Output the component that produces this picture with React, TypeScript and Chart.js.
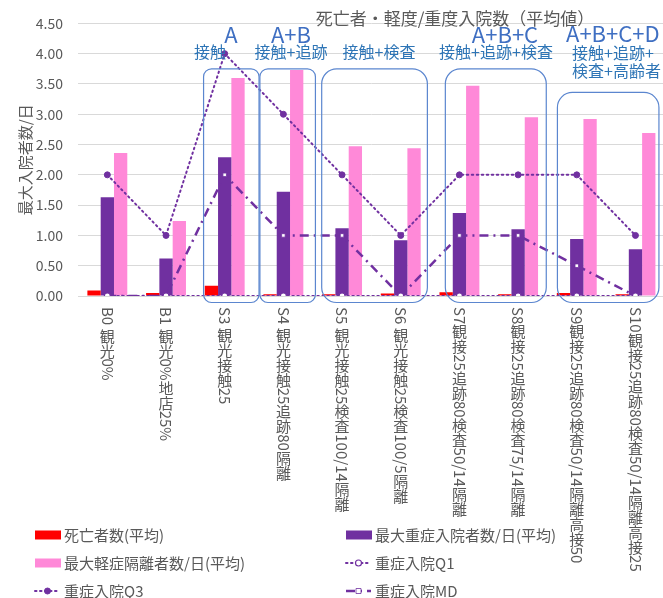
import React, { useEffect, useRef } from 'react';
import { Chart, registerables } from 'chart.js';

Chart.register(...registerables);

const FAMILY = "'Noto Sans CJK JP', 'Noto Sans', sans-serif";

const categories = [
  'B0 観光0%',
  'B1 観光0%地店25%',
  'S3 観光接触25',
  'S4 観光接触25追跡80隔離',
  'S5 観光接触25検査100/14隔離',
  'S6 観光接触25検査100/5隔離',
  'S7観接25追跡80検査50/14隔離',
  'S8観接25追跡80検査75/14隔離',
  'S9観接25追跡80検査50/14隔離高接50',
  'S10観接25追跡80検査50/14隔離高接25',
];

const deaths = [0.09, 0.05, 0.17, 0.03, 0.03, 0.04, 0.06, 0.03, 0.05, 0.03];
const severeMax = [1.63, 0.62, 2.29, 1.72, 1.12, 0.92, 1.37, 1.1, 0.94, 0.77];
const mildMax = [2.36, 1.24, 3.6, 3.73, 2.47, 2.44, 3.47, 2.95, 2.92, 2.69];
const severeQ1 = [0, 0, 0, 0, 0, 0, 0, 0, 0, 0];
const severeQ3 = [2, 1, 4, 3, 2, 1, 2, 2, 2, 1];
const severeMD = [0, 0, 2, 1, 1, 0, 1, 1, 0.5, 0];

const yTicks = { min: 0, max: 4.5, step: 0.5 };

const chartTitle = '死亡者・軽度/重度入院数（平均値）';
const yTitle = '最大入院者数/日';

// annotation groups (in category-index / value units)
const groupBoxes = [
  { from: 1.64, to: 2.585, top: 3.75, radius: 8 },
  { from: 2.6, to: 3.546, top: 3.75, radius: 8 },
  { from: 3.653, to: 5.454, top: 3.75, radius: 15 },
  { from: 5.76, to: 7.48, top: 3.75, radius: 15 },
  { from: 7.67, to: 9.4, top: 3.36, radius: 15 },
];
const groupTexts = [
  { text: 'A', x: 231, y: 35, big: true, align: 'center' },
  { text: '接触', x: 210, y: 52, big: false, align: 'center' },
  { text: 'A+B', x: 291, y: 35, big: true, align: 'center' },
  { text: '接触+追跡', x: 291, y: 52, big: false, align: 'center' },
  { text: '接触+検査', x: 379, y: 52, big: false, align: 'center' },
  { text: 'A+B+C', x: 505, y: 35, big: true, align: 'center' },
  { text: '接触+追跡+検査', x: 496, y: 52, big: false, align: 'center' },
  { text: 'A+B+C+D', x: 566, y: 34, big: true, align: 'left' },
  { text: '接触+追跡+', x: 572, y: 53, big: false, align: 'left' },
  { text: '検査+高齢者', x: 572, y: 71, big: false, align: 'left' },
];

const legendSlots = [
  [35, 535],
  [346, 535],
  [35, 563],
  [346, 563],
  [35, 591],
  [346, 591],
];

const PURPLE = '#7030A0';
const GRAY = '#595959';

function drawMarker(ctx: CanvasRenderingContext2D, ds: any, x: number, y: number) {
  const r = ds.pointRadius;
  ctx.save();
  ctx.setLineDash([]);
  ctx.fillStyle = ds.pointBackgroundColor;
  ctx.strokeStyle = ds.pointBorderColor;
  ctx.lineWidth = ds.pointBorderWidth;
  ctx.beginPath();
  if (ds.pointStyle === 'rect') {
    ctx.rect(x - r, y - r, 2 * r, 2 * r);
  } else {
    ctx.arc(x, y, r, 0, Math.PI * 2);
  }
  ctx.fill();
  ctx.stroke();
  ctx.restore();
}

const overlayPlugin = {
  id: 'overlay',
  afterDraw(chart: any) {
    const ctx: CanvasRenderingContext2D = chart.ctx;
    const xs = chart.scales.x;
    const ys = chart.scales.y;
    const area = chart.chartArea;
    ctx.save();

    // title
    ctx.font = `17px ${FAMILY}`;
    ctx.fillStyle = GRAY;
    ctx.textAlign = 'center';
    ctx.textBaseline = 'middle';
    ctx.fillText(chartTitle, 455, 19);

    // x labels, vertical stacked
    ctx.font = `15px ${FAMILY}`;
    ctx.fillStyle = GRAY;
    categories.forEach((lab, i) => {
      const cx = xs.getPixelForValue(i);
      let y = area.bottom + 11;
      for (const ch of Array.from(lab)) {
        const code = ch.codePointAt(0) || 0;
        if (code >= 0x2e80) {
          ctx.textAlign = 'center';
          ctx.textBaseline = 'top';
          ctx.fillText(ch, cx, y);
          y += 15;
        } else {
          const w = ctx.measureText(ch).width;
          ctx.save();
          ctx.translate(cx, y);
          ctx.rotate(Math.PI / 2);
          ctx.textAlign = 'left';
          ctx.textBaseline = 'middle';
          ctx.fillText(ch, 0, 0);
          ctx.restore();
          y += w;
        }
      }
    });

    // group boxes
    ctx.strokeStyle = '#5B86CF';
    ctx.lineWidth = 1.2;
    groupBoxes.forEach((b) => {
      const x1 = xs.getPixelForValue(b.from);
      const x2 = xs.getPixelForValue(b.to);
      const y1 = ys.getPixelForValue(b.top);
      const y2 = area.bottom + 6.5;
      ctx.beginPath();
      (ctx as any).roundRect(x1, y1, x2 - x1, y2 - y1, b.radius);
      ctx.stroke();
    });

    // group texts
    groupTexts.forEach((t) => {
      ctx.font = t.big ? `22px ${FAMILY}` : `16px ${FAMILY}`;
      ctx.fillStyle = t.big ? '#3F6FC2' : '#2E75B6';
      ctx.textAlign = t.align as CanvasTextAlign;
      ctx.textBaseline = 'middle';
      ctx.fillText(t.text, t.x, t.y);
    });

    // legend
    ctx.font = `15px ${FAMILY}`;
    chart.data.datasets.forEach((ds: any, i: number) => {
      const [lx, ly] = legendSlots[i];
      if (ds.type === 'line') {
        ctx.save();
        ctx.strokeStyle = ds.borderColor;
        ctx.lineWidth = ds.borderWidth;
        ctx.lineCap = ds.borderCapStyle || 'butt';
        ctx.setLineDash(ds.borderDash || []);
        ctx.beginPath();
        ctx.moveTo(lx, ly);
        ctx.lineTo(lx + 25, ly);
        ctx.stroke();
        ctx.restore();
        drawMarker(ctx, ds, lx + 12.5, ly);
      } else {
        ctx.fillStyle = ds.backgroundColor;
        ctx.fillRect(lx, ly - 4.5, 26, 9);
      }
      ctx.fillStyle = GRAY;
      ctx.textAlign = 'left';
      ctx.textBaseline = 'middle';
      ctx.fillText(ds.label, lx + 29, ly);
    });

    ctx.restore();
  },
};

export default function App() {
  const ref = useRef<HTMLCanvasElement>(null);

  useEffect(() => {
    document.body.style.margin = '0';
    if (!ref.current) return;
    const barCommon = { type: 'bar', order: 10, categoryPercentage: 0.68, barPercentage: 1.0 };
    const chart = new Chart(ref.current, {
      type: 'bar',
      data: {
        labels: categories,
        datasets: [
          { ...barCommon, label: '死亡者数(平均)', data: deaths, backgroundColor: '#FF0000' },
          { ...barCommon, label: '最大重症入院者数/日(平均)', data: severeMax, backgroundColor: PURPLE },
          { ...barCommon, label: '最大軽症隔離者数/日(平均)', data: mildMax, backgroundColor: '#FF89D8' },
          {
            type: 'line', order: 1, label: '重症入院Q1', data: severeQ1,
            borderColor: PURPLE, borderWidth: 2, borderDash: [1.5, 3.5], borderCapStyle: 'round',
            pointStyle: 'circle', pointRadius: 3, pointBackgroundColor: '#FFFFFF',
            pointBorderColor: PURPLE, pointBorderWidth: 1.2, fill: false, tension: 0,
          },
          {
            type: 'line', order: 1, label: '重症入院Q3', data: severeQ3,
            borderColor: PURPLE, borderWidth: 2, borderDash: [1.5, 3.5], borderCapStyle: 'round',
            pointStyle: 'circle', pointRadius: 3, pointBackgroundColor: PURPLE,
            pointBorderColor: PURPLE, pointBorderWidth: 1, fill: false, tension: 0,
          },
          {
            type: 'line', order: 1, label: '重症入院MD', data: severeMD,
            borderColor: PURPLE, borderWidth: 2.5, borderDash: [9, 5, 2, 5], borderCapStyle: 'butt',
            pointStyle: 'rect', pointRadius: 2.5, pointBackgroundColor: '#FFFFFF',
            pointBorderColor: PURPLE, pointBorderWidth: 0.8, fill: false, tension: 0,
          },
        ] as any,
      },
      options: {
        responsive: false,
        animation: false,
        devicePixelRatio: 1,
        events: [],
        layout: { padding: { top: 21, right: 2, bottom: 0, left: 0 } },
        plugins: { legend: { display: false }, tooltip: { enabled: false }, title: { display: false } },
        scales: {
          x: {
            ticks: { display: false },
            grid: { display: false },
            border: { display: false },
            afterFit: (scale: any) => { scale.height = 302; },
          },
          y: {
            min: yTicks.min,
            max: yTicks.max,
            ticks: {
              stepSize: yTicks.step,
              padding: 15,
              color: GRAY,
              font: { size: 14, family: FAMILY },
              callback: (v: any) => Number(v).toFixed(2),
            },
            grid: { color: '#D9D9D9', lineWidth: 1, drawTicks: false },
            border: { display: false },
            title: {
              display: true,
              text: yTitle,
              color: GRAY,
              font: { size: 15, family: FAMILY },
              padding: { top: 16, bottom: 0 },
            },
            afterFit: (scale: any) => { scale.width = 78; },
          },
        },
      } as any,
      plugins: [overlayPlugin],
    });
    return () => chart.destroy();
  }, []);

  return (
    <div style={{ position: 'absolute', left: 0, top: 0, width: 663, height: 598, overflow: 'hidden', background: '#fff' }}>
      <canvas ref={ref} width={670} height={598} style={{ width: 670, height: 598, display: 'block' }} />
    </div>
  );
}
